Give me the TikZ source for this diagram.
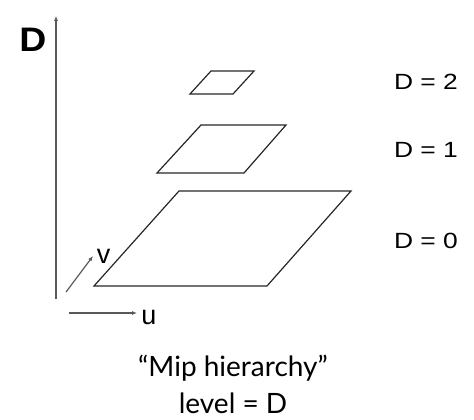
\documentclass[tikz,border=0pt]{standalone}
\usepackage{fontspec}
\usepackage{graphicx}
\setmainfont{Liberation Sans}
\newfontfamily\capfont{Lato}
\usetikzlibrary{arrows.meta}
\newcommand{\wideDlabel}[1]{\scalebox{1.2}[1]{D\hspace{6pt}=\hspace{6pt}#1}}
\begin{document}
\begin{tikzpicture}[x=1pt,y=-1pt,
  plane/.style={draw=black!85,line width=1.2pt,line join=miter},
  axis/.style={draw=black!65,line width=1.2pt,-{Latex[length=5pt,width=4pt]}},
  lbl/.style={font=\fontsize{22}{24}\selectfont,inner sep=0pt},
  axlbl/.style={font=\fontsize{27}{30}\selectfont,inner sep=0pt},
  captext/.style={font=\capfont\fontsize{28}{30}\selectfont,align=center,inner sep=0pt}]
\useasboundingbox (0,0) rectangle (474,420);
% planes
\draw[plane] (211,71) -- (254,71) -- (233,94) -- (190,94) -- cycle;
\draw[plane] (201,125) -- (286,125) -- (244,173) -- (157,173) -- cycle;
\draw[plane] (179,191) -- (351,191) -- (267,286) -- (94,286) -- cycle;
% axes
\coordinate (d0) at (56,299);
\coordinate (d1) at (56,16);
\draw[axis] (d0) -- (d1);
\coordinate (v0) at (66,292);
\coordinate (v1) at (93,256);
\draw[axis] (v0) -- (v1);
\coordinate (u0) at (69,313);
\coordinate (u1) at (137,313);
\draw[axis] (u0) -- (u1);
% labels
\node[font=\bfseries\fontsize{34}{40}\selectfont,inner sep=0pt] (D) at (33,40) {\scalebox{1.1}[1]{D}};
\node[axlbl] (v) at (103.5,256.5) {v};
\node[axlbl] (u) at (149,317.5) {u};
\node[lbl] (l2) at (426,82) {\wideDlabel{2}};
\node[lbl] (l1) at (426,150) {\wideDlabel{1}};
\node[lbl] (l0) at (426,241) {\wideDlabel{0}};
\node[captext,anchor=base] (c1) at (233,376) {“Mip hierarchy”};
\node[captext,anchor=base] (c2) at (233,413) {level = D};
\end{tikzpicture}
\end{document}
